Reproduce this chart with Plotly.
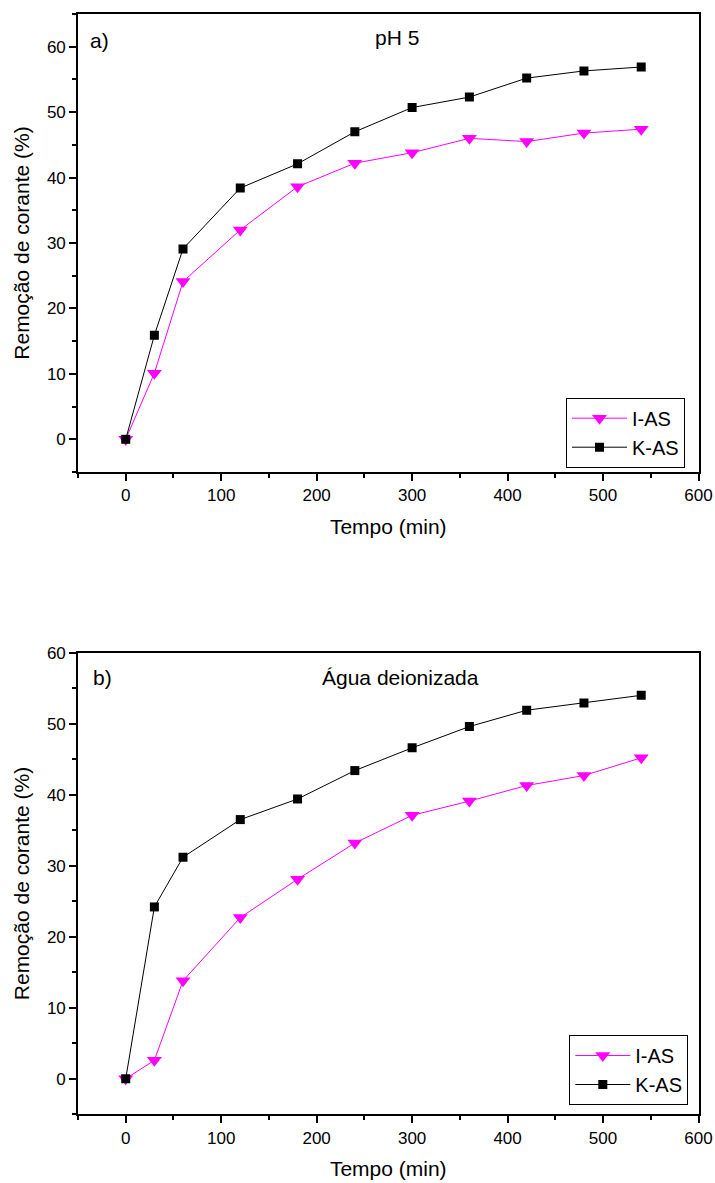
import plotly.graph_objects as go

# Data
tempo = [0, 30, 60, 120, 180, 240, 300, 360, 420, 480, 540]
ph5_ias = [0, 10.1, 24.1, 32.0, 38.6, 42.2, 43.8, 46.0, 45.5, 46.8, 47.4]
ph5_kas = [0, 15.9, 29.1, 38.4, 42.1, 47.0, 50.7, 52.3, 55.2, 56.3, 56.9]
agua_ias = [0, 2.6, 13.8, 22.7, 28.1, 33.2, 37.1, 39.1, 41.3, 42.7, 45.2]
agua_kas = [0, 24.2, 31.2, 36.5, 39.4, 43.4, 46.6, 49.6, 51.9, 52.9, 54.0]

FONT = "Arial, Liberation Sans, sans-serif"
MAGENTA = "#ff00ff"

fig = go.Figure()

def add_series(x, y, name, color, symbol, size, xa, ya, lg, show):
    fig.add_trace(go.Scatter(
        x=x, y=y, name=name, mode="lines+markers",
        line=dict(color=color, width=1),
        marker=dict(symbol=symbol, size=size, color=color, line=dict(width=0)),
        xaxis=xa, yaxis=ya, legend=lg, showlegend=show,
    ))

add_series(tempo, ph5_ias, "I-AS", MAGENTA, "triangle-down", 13, "x", "y", "legend", True)
add_series(tempo, ph5_kas, "K-AS", "black", "square", 9, "x", "y", "legend", True)
add_series(tempo, agua_ias, "I-AS", MAGENTA, "triangle-down", 13, "x2", "y2", "legend2", True)
add_series(tempo, agua_kas, "K-AS", "black", "square", 9, "x2", "y2", "legend2", True)

W, H = 715, 1183
xdom = [78 / W, 698.5 / W]
ydom1 = [1 - 472 / H, 1 - 14 / H]
ydom2 = [1 - 1114.3 / H, 1 - 652.7 / H]

def xaxis(dom, anchor):
    return dict(
        domain=dom, anchor=anchor, range=[-50, 600], tickvals=[0, 100, 200, 300, 400, 500, 600],
        automargin=False,
        showgrid=False, zeroline=False, showline=True, linecolor="black", linewidth=1.6,
        mirror=True, ticks="outside", ticklen=7, tickwidth=1.6, tickcolor="black",
        minor=dict(tickvals=[-50, 50, 150, 250, 350, 450, 550], ticks="outside", ticklen=4,
                   tickwidth=1.6, tickcolor="black", showgrid=False),
        tickfont=dict(family=FONT, size=17, color="black"),
        title=dict(text="Tempo (min)", font=dict(family=FONT, size=21, color="black"), standoff=15),
    )

def yaxis(dom, anchor, rng, minors):
    return dict(
        domain=dom, anchor=anchor, range=rng, tickvals=[0, 10, 20, 30, 40, 50, 60],
        automargin=False,
        showgrid=False, zeroline=False, showline=True, linecolor="black", linewidth=1.6,
        mirror=True, ticks="outside", ticklen=7, tickwidth=1.6, tickcolor="black",
        minor=dict(tickvals=minors, ticks="outside", ticklen=4,
                   tickwidth=1.6, tickcolor="black", showgrid=False),
        tickfont=dict(family=FONT, size=17, color="black"),
        title=dict(text="Remoção de corante (%)", font=dict(family=FONT, size=21, color="black"), standoff=12),
    )

legend_style = dict(
    bgcolor="white", bordercolor="black", borderwidth=1,
    font=dict(family=FONT, size=20, color="black"),
    xanchor="right", yanchor="top", itemwidth=55, tracegroupgap=0,
)

fig.update_layout(
    width=W, height=H, margin=dict(l=0, r=0, t=0, b=0, autoexpand=False),
    paper_bgcolor="white", plot_bgcolor="white",
    xaxis=xaxis(xdom, "y"),
    yaxis=yaxis(ydom1, "x", [-5, 65], [-5, 5, 15, 25, 35, 45, 55, 65]),
    xaxis2=xaxis(xdom, "y2"),
    yaxis2=yaxis(ydom2, "x2", [-5, 60], [-5, 5, 15, 25, 35, 45, 55]),
    legend=dict(x=685 / W, y=1 - 397.7 / H, **legend_style),
    legend2=dict(x=688.3 / W, y=1 - 1035 / H, **legend_style),
    annotations=[
        dict(text="a)", x=88 / W, y=1 - 41 / H, xref="paper", yref="paper", xanchor="left",
             yanchor="middle", showarrow=False, font=dict(family=FONT, size=21, color="black")),
        dict(text="pH 5", x=397 / W, y=1 - 37 / H, xref="paper", yref="paper", xanchor="center",
             yanchor="middle", showarrow=False, font=dict(family=FONT, size=21, color="black")),
        dict(text="b)", x=91 / W, y=1 - 678 / H, xref="paper", yref="paper", xanchor="left",
             yanchor="middle", showarrow=False, font=dict(family=FONT, size=21, color="black")),
        dict(text="Água deionizada", x=400 / W, y=1 - 677 / H, xref="paper", yref="paper", xanchor="center",
             yanchor="middle", showarrow=False, font=dict(family=FONT, size=21, color="black")),
    ],
)

fig.write_html("out.html")
